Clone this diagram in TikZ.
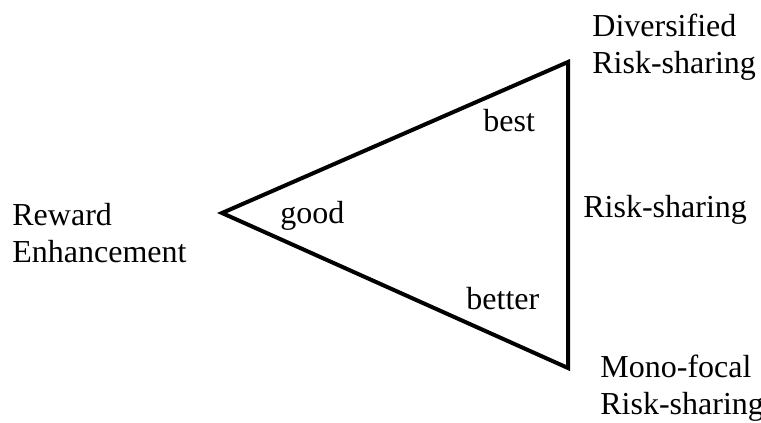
\documentclass[tikz,border=0pt]{standalone}
\usepackage{fontspec}
\setmainfont{Liberation Serif}
\usetikzlibrary{positioning}

\tikzset{
  lbl/.style={anchor=base west,inner sep=0pt,align=left,font=\fontsize{16}{18.5}\selectfont},
  corner/.style={inner sep=0pt,minimum size=0pt}
}

\begin{document}
\begin{tikzpicture}[x=0.5pt,y=-0.5pt]
  \useasboundingbox (0,0) rectangle (761,423);
  % triangle corners
  \coordinate (tip) at (222,213);
  \coordinate (top) at (568,62);
  \coordinate (bot) at (568,368);
  \draw[line width=2pt,line join=miter] (tip) -- (top) -- (bot) -- cycle;
  % outer labels (base = last line)
  \node[lbl] (reward) at (12,262) {Reward\\Enhancement};
  \node[lbl] (divers) at (592,73) {Diversified\\Risk-sharing};
  \node[lbl] (risk) at (583,217) {Risk-sharing};
  \node[lbl] (mono) at (600,414) {Mono-focal\\Risk-sharing};
  % inner labels
  \node[lbl] (good) at (280,223) {good};
  \node[lbl] (best) at (483,131) {best};
  \node[lbl] (better) at (466,309) {better};
\end{tikzpicture}
\end{document}
